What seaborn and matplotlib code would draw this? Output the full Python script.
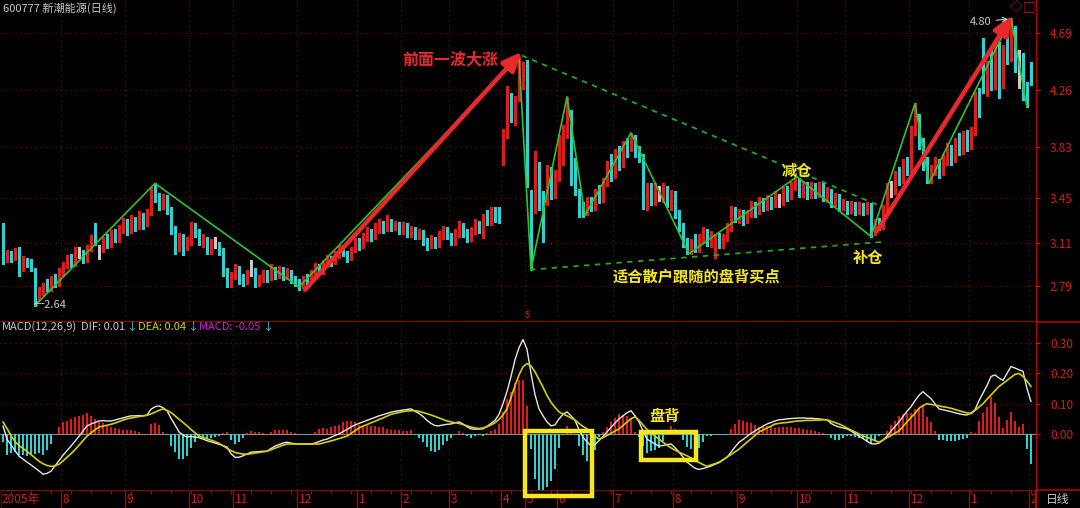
import numpy as np
import pandas as pd
import matplotlib
matplotlib.use("Agg")
import matplotlib.pyplot as plt
import seaborn as sns
from matplotlib.lines import Line2D
from matplotlib.patches import Rectangle

# ---------------- data ----------------
opens = [3.20,2.99,3.03,3.00,3.05,2.92,2.98,2.96,2.90,2.70,
         2.75,2.80,2.77,2.84,2.80,2.88,2.94,2.99,2.95,3.05,
         3.05,2.98,3.08,3.24,3.06,3.06,3.13,3.10,3.18,3.14,
         3.22,3.27,3.21,3.28,3.24,3.32,3.26,3.34,3.50,3.46,
         3.40,3.45,3.36,3.22,3.07,3.15,3.10,3.12,3.24,3.20,
         3.12,3.14,3.06,3.10,3.10,3.05,2.90,2.80,2.86,2.92,
         2.85,2.82,2.90,2.90,2.80,2.84,2.88,2.85,2.90,2.87,
         2.91,2.86,2.89,2.84,2.82,2.78,2.84,2.82,2.88,2.93,
         2.89,2.95,2.99,2.96,3.02,3.08,3.03,3.00,3.06,3.12,
         3.09,3.15,3.20,3.16,3.22,3.26,3.22,3.27,3.23,3.25,
         3.20,3.24,3.18,3.21,3.16,3.19,3.13,3.09,3.14,3.10,
         3.16,3.21,3.17,3.12,3.18,3.24,3.19,3.15,3.20,3.26,
         3.18,3.30,3.27,3.36,3.37,3.72,3.93,4.22,4.05,4.20,
         4.30,4.44,3.50,3.36,3.70,3.48,3.42,3.66,3.48,3.62,
         3.88,3.95,4.09,3.72,3.50,3.38,3.34,3.42,3.38,3.48,
         3.44,3.56,3.68,3.62,3.78,3.70,3.84,3.82,3.90,3.80,
         3.76,3.40,3.52,3.44,3.48,3.46,3.52,3.40,3.46,3.34,
         3.24,3.12,3.06,3.10,3.06,3.14,3.20,3.12,3.08,3.16,
         3.10,3.15,3.22,3.36,3.30,3.34,3.28,3.33,3.40,3.35,
         3.42,3.38,3.44,3.40,3.44,3.42,3.50,3.46,3.54,3.58,
         3.49,3.55,3.47,3.53,3.48,3.54,3.46,3.50,3.42,3.46,
         3.38,3.41,3.36,3.40,3.35,3.39,3.35,3.40,3.19,3.26,
         3.24,3.36,3.51,3.50,3.62,3.58,3.70,3.66,3.95,4.06,
         3.86,3.72,3.60,3.66,3.72,3.64,3.74,3.82,3.74,3.86,
         3.80,3.90,3.84,3.94,4.20,4.62,4.26,4.44,4.30,4.58,
         4.30,4.56,4.52,4.70,4.52,4.50,4.28,4.44]
closes = [2.98,3.03,3.00,3.04,2.90,2.98,2.95,2.93,2.68,2.76,
          2.79,2.77,2.83,2.80,2.88,2.94,2.99,2.95,3.05,3.05,
          2.98,3.08,3.14,3.12,3.06,3.13,3.10,3.18,3.14,3.22,
          3.27,3.21,3.28,3.24,3.32,3.26,3.34,3.50,3.46,3.40,
          3.45,3.36,3.22,3.06,3.15,3.10,3.12,3.24,3.20,3.12,
          3.14,3.06,3.10,3.10,3.05,2.90,2.80,2.86,2.92,2.85,
          2.82,2.88,2.90,2.80,2.84,2.88,2.85,2.90,2.87,2.91,
          2.86,2.89,2.84,2.82,2.78,2.84,2.82,2.88,2.93,2.89,
          2.95,2.99,2.96,3.02,3.08,3.03,3.00,3.06,3.12,3.09,
          3.15,3.20,3.16,3.22,3.26,3.22,3.27,3.23,3.25,3.20,
          3.24,3.18,3.21,3.16,3.19,3.13,3.09,3.14,3.10,3.16,
          3.21,3.17,3.12,3.18,3.24,3.19,3.15,3.20,3.26,3.22,
          3.30,3.27,3.34,3.30,3.30,3.94,4.26,4.05,4.20,4.48,
          4.44,3.56,2.95,3.78,3.40,3.15,3.66,3.48,3.62,3.88,
          3.95,4.17,3.58,3.50,3.35,3.34,3.42,3.38,3.48,3.44,
          3.56,3.68,3.62,3.78,3.70,3.84,3.80,3.90,3.80,3.74,
          3.40,3.52,3.44,3.50,3.48,3.52,3.40,3.46,3.34,3.24,
          3.12,3.05,3.10,3.06,3.14,3.20,3.12,3.16,3.16,3.10,
          3.15,3.22,3.36,3.30,3.34,3.28,3.33,3.40,3.35,3.42,
          3.38,3.44,3.40,3.46,3.44,3.50,3.46,3.54,3.58,3.49,
          3.55,3.47,3.53,3.48,3.54,3.46,3.50,3.42,3.46,3.38,
          3.41,3.36,3.40,3.35,3.39,3.35,3.38,3.19,3.26,3.24,
          3.36,3.52,3.51,3.62,3.58,3.70,3.66,3.95,4.12,3.86,
          3.70,3.60,3.66,3.72,3.64,3.74,3.82,3.74,3.86,3.80,
          3.90,3.84,3.94,4.20,4.10,4.26,4.44,4.30,4.60,4.28,
          4.56,4.50,4.72,4.45,4.52,4.22,4.16,4.34]
highs = [3.26,3.06,3.05,3.07,3.08,3.01,3.00,2.99,2.92,2.78,
         2.81,2.84,2.86,2.88,2.92,2.97,3.02,3.03,3.08,3.08,
         3.06,3.10,3.17,3.26,3.10,3.16,3.18,3.21,3.22,3.25,
         3.30,3.29,3.32,3.31,3.35,3.34,3.37,3.53,3.56,3.49,
         3.48,3.47,3.38,3.24,3.19,3.18,3.16,3.27,3.26,3.22,
         3.18,3.16,3.14,3.16,3.12,3.07,2.92,2.89,2.95,2.94,
         2.88,2.91,2.98,2.92,2.87,2.91,2.91,2.95,2.93,2.94,
         2.93,2.92,2.91,2.86,2.84,2.86,2.88,2.91,2.96,2.95,
         2.98,3.02,3.01,3.05,3.10,3.10,3.05,3.08,3.15,3.15,
         3.19,3.23,3.22,3.26,3.29,3.28,3.32,3.29,3.28,3.27,
         3.27,3.26,3.24,3.23,3.22,3.21,3.15,3.17,3.16,3.20,
         3.24,3.23,3.19,3.22,3.28,3.26,3.22,3.23,3.29,3.28,
         3.33,3.36,3.38,3.38,3.38,3.97,4.29,4.24,4.22,4.51,
         4.47,4.49,3.51,3.80,3.72,3.50,3.70,3.68,3.66,3.92,
         4.00,4.21,4.11,3.75,3.52,3.42,3.46,3.46,3.52,3.55,
         3.60,3.73,3.78,3.82,3.84,3.88,3.90,3.94,3.92,3.84,
         3.78,3.56,3.56,3.56,3.54,3.56,3.54,3.51,3.50,3.36,
         3.26,3.15,3.14,3.18,3.18,3.23,3.22,3.20,3.18,3.19,
         3.18,3.26,3.39,3.38,3.37,3.36,3.36,3.43,3.42,3.46,
         3.45,3.47,3.46,3.50,3.48,3.53,3.54,3.57,3.61,3.60,
         3.58,3.57,3.57,3.56,3.57,3.56,3.53,3.52,3.49,3.48,
         3.44,3.43,3.43,3.42,3.42,3.41,3.42,3.41,3.29,3.30,
         3.40,3.56,3.58,3.65,3.68,3.74,3.76,3.99,4.16,4.08,
         3.90,3.76,3.70,3.76,3.74,3.78,3.86,3.85,3.90,3.94,
         3.95,3.96,3.98,4.25,4.28,4.65,4.48,4.58,4.63,4.62,
         4.60,4.66,4.80,4.74,4.56,4.54,4.32,4.47]
lows = [2.95,2.97,2.97,2.98,2.86,2.90,2.93,2.90,2.64,2.68,
        2.72,2.75,2.75,2.78,2.79,2.86,2.92,2.93,2.94,3.00,
        2.96,2.97,3.05,3.10,2.99,3.04,3.07,3.08,3.12,3.12,
        3.19,3.17,3.19,3.20,3.22,3.22,3.24,3.32,3.42,3.36,
        3.37,3.33,3.18,3.03,3.05,3.02,3.06,3.10,3.16,3.10,
        3.08,3.03,3.03,3.07,3.02,2.86,2.78,2.78,2.84,2.80,
        2.79,2.80,2.86,2.78,2.79,2.82,2.82,2.83,2.84,2.85,
        2.83,2.84,2.81,2.79,2.76,2.77,2.80,2.81,2.86,2.87,
        2.88,2.93,2.94,2.95,3.00,3.01,2.97,2.98,3.04,3.06,
        3.07,3.13,3.13,3.14,3.19,3.19,3.20,3.20,3.21,3.18,
        3.18,3.16,3.16,3.14,3.14,3.10,3.06,3.07,3.07,3.08,
        3.14,3.14,3.10,3.10,3.16,3.16,3.12,3.13,3.18,3.19,
        3.15,3.25,3.25,3.27,3.26,3.70,3.90,4.02,4.00,4.18,
        4.27,3.53,2.91,3.34,3.36,3.12,3.40,3.44,3.45,3.58,
        3.70,3.90,3.55,3.47,3.31,3.31,3.32,3.35,3.36,3.41,
        3.42,3.54,3.58,3.60,3.66,3.68,3.76,3.80,3.76,3.72,
        3.37,3.36,3.40,3.40,3.43,3.42,3.38,3.36,3.30,3.20,
        3.08,3.03,3.03,3.04,3.04,3.12,3.09,3.08,3.00,3.07,
        3.07,3.13,3.20,3.27,3.26,3.25,3.26,3.31,3.31,3.33,
        3.35,3.36,3.37,3.38,3.38,3.40,3.43,3.44,3.51,3.46,
        3.46,3.44,3.45,3.45,3.46,3.43,3.42,3.38,3.39,3.35,
        3.36,3.33,3.34,3.32,3.33,3.32,3.33,3.16,3.17,3.21,
        3.22,3.34,3.46,3.48,3.55,3.56,3.62,3.64,3.92,3.82,
        3.66,3.56,3.56,3.62,3.60,3.62,3.70,3.70,3.72,3.77,
        3.78,3.80,3.82,3.92,4.06,4.24,4.22,4.26,4.27,4.20,
        4.28,4.46,4.48,4.40,4.28,4.19,4.13,4.30]
dif = [0.027,-0.017,-0.036,-0.055,-0.073,-0.083,-0.093,-0.102,-0.112,-0.122,
       -0.133,-0.130,-0.123,-0.105,-0.088,-0.070,-0.055,-0.040,-0.024,-0.008,
       0.010,0.027,0.033,0.038,0.043,0.044,0.043,0.043,0.046,0.050,
       0.053,0.057,0.060,0.060,0.061,0.060,0.062,0.082,0.090,0.093,
       0.087,0.077,0.052,0.030,0.007,-0.004,-0.010,-0.008,-0.010,-0.012,
       -0.017,-0.022,-0.026,-0.030,-0.034,-0.038,-0.043,-0.065,-0.077,-0.077,
       -0.072,-0.066,-0.060,-0.059,-0.058,-0.057,-0.057,-0.048,-0.040,-0.035,
       -0.030,-0.027,-0.030,-0.032,-0.033,-0.033,-0.034,-0.033,-0.030,-0.025,
       -0.020,-0.017,-0.011,-0.005,0.000,0.008,0.015,0.023,0.030,0.035,
       0.040,0.045,0.050,0.055,0.060,0.064,0.068,0.072,0.075,0.077,
       0.079,0.081,0.083,0.075,0.068,0.058,0.045,0.035,0.028,0.027,
       0.030,0.032,0.033,0.037,0.040,0.033,0.024,0.017,0.016,0.016,
       0.017,0.025,0.035,0.045,0.065,0.100,0.140,0.190,0.245,0.285,
       0.312,0.280,0.200,0.130,0.083,0.060,0.040,0.027,0.030,0.050,
       0.065,0.073,0.060,0.045,0.015,-0.010,-0.027,-0.038,-0.035,-0.022,
       -0.008,0.007,0.022,0.036,0.050,0.060,0.070,0.077,0.060,0.040,
       0.010,-0.017,-0.025,-0.033,-0.040,-0.038,-0.035,-0.033,-0.045,-0.060,
       -0.076,-0.093,-0.103,-0.113,-0.117,-0.114,-0.110,-0.106,-0.100,-0.095,
       -0.086,-0.077,-0.060,-0.043,-0.027,-0.018,-0.008,0.002,0.010,0.018,
       0.026,0.033,0.038,0.043,0.047,0.048,0.050,0.051,0.052,0.053,
       0.053,0.052,0.052,0.051,0.050,0.048,0.047,0.035,0.028,0.023,
       0.020,0.017,0.010,0.002,-0.007,-0.015,-0.024,-0.032,-0.033,-0.030,
       -0.020,-0.007,0.010,0.025,0.040,0.058,0.075,0.090,0.110,0.128,
       0.140,0.128,0.117,0.100,0.083,0.080,0.077,0.074,0.070,0.067,
       0.064,0.063,0.070,0.080,0.110,0.135,0.160,0.190,0.195,0.185,
       0.177,0.200,0.223,0.218,0.212,0.207,0.150,0.107]
dea = [0.040,0.018,-0.005,-0.025,-0.038,-0.048,-0.057,-0.068,-0.079,-0.090,
       -0.098,-0.104,-0.107,-0.105,-0.100,-0.089,-0.077,-0.065,-0.052,-0.037,
       -0.022,-0.007,0.004,0.014,0.023,0.026,0.029,0.032,0.036,0.041,
       0.046,0.050,0.053,0.055,0.058,0.060,0.062,0.066,0.072,0.078,
       0.083,0.078,0.071,0.060,0.049,0.038,0.027,0.015,0.004,-0.007,
       -0.012,-0.016,-0.020,-0.025,-0.031,-0.039,-0.047,-0.055,-0.061,-0.064,
       -0.066,-0.067,-0.065,-0.063,-0.061,-0.059,-0.057,-0.052,-0.047,-0.042,
       -0.037,-0.033,-0.033,-0.033,-0.033,-0.033,-0.033,-0.033,-0.033,-0.033,
       -0.030,-0.026,-0.023,-0.019,-0.015,-0.011,-0.007,0.002,0.011,0.020,
       0.026,0.031,0.037,0.042,0.048,0.053,0.059,0.065,0.068,0.071,
       0.074,0.076,0.077,0.077,0.075,0.071,0.067,0.063,0.058,0.053,
       0.048,0.043,0.040,0.037,0.035,0.031,0.027,0.023,0.020,0.018,
       0.020,0.024,0.030,0.037,0.048,0.063,0.083,0.120,0.160,0.195,
       0.222,0.233,0.225,0.205,0.180,0.155,0.127,0.105,0.088,0.073,
       0.066,0.060,0.053,0.046,0.035,0.025,0.017,0.005,-0.008,-0.017,
       -0.012,-0.005,0.002,0.010,0.017,0.028,0.040,0.050,0.057,0.045,
       0.030,0.015,0.003,-0.007,-0.017,-0.027,-0.037,-0.046,-0.053,-0.060,
       -0.066,-0.072,-0.079,-0.087,-0.094,-0.101,-0.107,-0.102,-0.098,-0.093,
       -0.085,-0.076,-0.068,-0.059,-0.050,-0.039,-0.027,-0.016,-0.005,0.007,
       0.013,0.020,0.026,0.033,0.035,0.037,0.038,0.040,0.042,0.043,
       0.044,0.045,0.045,0.046,0.046,0.047,0.047,0.042,0.038,0.033,
       0.027,0.020,0.013,0.007,0.000,-0.006,-0.011,-0.016,-0.022,-0.027,
       -0.020,-0.012,-0.005,0.003,0.010,0.025,0.040,0.055,0.068,0.085,
       0.094,0.100,0.098,0.095,0.093,0.090,0.088,0.085,0.081,0.077,
       0.073,0.070,0.067,0.078,0.089,0.100,0.115,0.129,0.143,0.157,
       0.167,0.177,0.187,0.197,0.200,0.190,0.175,0.157]

month_starts = [15, 31, 47, 58, 74, 89, 100, 112, 125, 131, 139, 153, 168, 184, 199, 211, 227, 242, 257]
month_labels = ["8", "9", "10", "11", "12", "1", "2", "3", "4", "5", "6", "7", "8", "9", "10", "11", "12", "1", "2"]
price_ticks = [4.69, 4.26, 3.83, 3.45, 3.11, 2.79]
macd_ticks = [0.30, 0.20, 0.10, 0.00]

zz_idx = [8, 38, 74, 129, 132, 141, 145.5, 157, 171.5, 198.5, 217, 228, 231.5, 252, 256]
zz_price = [2.64, 3.56, 2.78, 4.51, 2.91, 4.21, 3.32, 3.94, 3.03, 3.61, 3.16, 4.16, 3.56, 4.80, 4.13]
trend_up_idx = [129.75, 219.25]
trend_up_price = [4.52, 3.39]
trend_lo_idx = [131.75, 220.0]
trend_lo_price = [2.91, 3.12]
arrow1_idx = [75.5, 129.75]
arrow1_price = [2.76, 4.55]
arrow2_idx = [218.5, 252.25]
arrow2_price = [3.20, 4.82]

# ---------------- styling ----------------
sns.set_theme(style="dark", rc={"axes.facecolor": "black", "figure.facecolor": "black"})
plt.rcParams["font.family"] = ["Noto Sans CJK SC", "DejaVu Sans"]
plt.rcParams["axes.unicode_minus"] = False

UPC = "#e01b1b"
DNC = "#2fd2d2"
FLC = "#c8c8c8"
RED = "#d41c1c"
GRID = "#8c0000"
BORDER = "#b00000"
GREEN = "#2ec42e"
ARROW = "#e8292b"
YEL = "#f6e71a"
GREY = "#c8c8c8"

W, H = 1080, 508
fig = plt.figure(figsize=(W / 100, H / 100), dpi=100)
fig.patch.set_facecolor("black")


def fbox(x0, y0, x1, y1):
    return [x0 / W, 1 - y1 / H, (x1 - x0) / W, (y1 - y0) / H]


def xi(px):
    return (px - 3) / 4.0


def yp(py):
    return 4.69 - (py - 33) / 133.0


def yv(py):
    return (434 - py) / 303.0


ax = fig.add_axes(fbox(0, 0, 1036, 321))
ax2 = fig.add_axes(fbox(0, 322, 1036, 490))
ax3 = fig.add_axes(fbox(0, 490, 1036, 508))
ax3.set_zorder(1)
ax2.set_zorder(3)
ax.set_zorder(2)

for a in (ax, ax2, ax3):
    a.set_facecolor("black")
    a.set_xlim(-0.75, 258.25)
    for s in a.spines.values():
        s.set_visible(False)
    a.set_xticks([])
    a.grid(False)
ax.set_ylim(2.525, 4.938)
ax2.set_ylim(-0.185, 0.370)
ax3.set_ylim(0, 1)
ax3.set_yticks([])

n = len(closes)
idx = np.arange(n)
o = np.array(opens)
c = np.array(closes)
h = np.array(highs)
l = np.array(lows)
dif_a = np.array(dif)
dea_a = np.array(dea)
hist = 2 * (dif_a - dea_a)

# grid lines
dots = (0, (1, 3))
for p in price_ticks:
    ax.axhline(p, color=GRID, lw=0.9, ls=dots, zorder=0)
for v in macd_ticks[:-1]:
    ax2.axhline(v, color=GRID, lw=0.9, ls=dots, zorder=0)
for m in month_starts:
    ax.axvline(m - 0.5, color=GRID, lw=0.9, ls=dots, zorder=0)
    ax2.axvline(m - 0.5, color=GRID, lw=0.9, ls=dots, zorder=0)

# candles
col = np.where(c > o, UPC, np.where(c < o, DNC, FLC))
ax.vlines(idx, l, h, colors=col, lw=1.0, zorder=3, antialiased=False)
ax.bar(idx, np.maximum(np.abs(c - o), 0.006), bottom=np.minimum(o, c), width=0.5,
       color=col, linewidth=0, zorder=3)

# zigzag and trend lines
zz = pd.DataFrame({"i": zz_idx, "p": zz_price})
sns.lineplot(data=zz, x="i", y="p", ax=ax, color=GREEN, lw=1.2, sort=False, estimator=None, zorder=4)
ax.plot(trend_up_idx, trend_up_price, color="#22a822", lw=1.3, ls=(0, (3, 3)), zorder=4)
ax.plot(trend_lo_idx, trend_lo_price, color="#22a822", lw=1.3, ls=(0, (3, 3)), zorder=4)

# red arrows
for ai, ap in ((arrow1_idx, arrow1_price), (arrow2_idx, arrow2_price)):
    ax.annotate("", xy=(ai[1], ap[1]), xytext=(ai[0], ap[0]),
                arrowprops=dict(arrowstyle="-|>,head_length=0.7,head_width=0.3", color=ARROW,
                                lw=3.3, shrinkA=0, shrinkB=0, mutation_scale=16), zorder=6)

# annotations in the price panel
ax.text(xi(450), yp(59), "前面一波大涨", color=ARROW, fontsize=11.5, fontweight="bold",
        ha="center", va="center", zorder=7)
ax.text(xi(797), yp(171), "减仓", color=YEL, fontsize=11, fontweight="bold", ha="center", va="center", zorder=7)
ax.text(xi(868), yp(258), "补仓", color=YEL, fontsize=11, fontweight="bold", ha="center", va="center", zorder=7)
ax.text(xi(697), yp(276), "适合散户跟随的盘背买点", color=YEL, fontsize=11, fontweight="bold",
        ha="center", va="center", zorder=7)
ax.text(xi(34), yp(305), "←2.64", color=GREY, fontsize=8, ha="left", va="center", zorder=7)
ax.annotate("4.80", xy=(xi(1008), yp(19)), xytext=(xi(970), yp(22)), color=GREY, fontsize=8,
            ha="left", va="center", zorder=7,
            arrowprops=dict(arrowstyle="->", color=GREY, lw=0.8, shrinkA=1, shrinkB=0))

# MACD panel
ax2.axhline(0, color="#8a8a8a", lw=0.8, zorder=1)
hcol = np.where(hist >= 0, UPC, DNC)
ax2.bar(idx, hist, bottom=0, width=0.3, color=hcol, linewidth=0, zorder=2, antialiased=False)
mdf = pd.DataFrame({"i": idx, "dif": dif_a, "dea": dea_a})
sns.lineplot(data=mdf, x="i", y="dif", ax=ax2, color="#e6e6e6", lw=1.0, zorder=4)
sns.lineplot(data=mdf, x="i", y="dea", ax=ax2, color="#d6cf00", lw=1.2, zorder=4)
for a in (ax, ax2):
    a.set_xlabel("")
    a.set_ylabel("")
    a.set_xlim(-0.75, 258.25)
    a.set_xticks([])
ax.set_ylim(2.525, 4.938)
ax2.set_ylim(-0.185, 0.370)

ax2.add_patch(Rectangle((xi(525), yv(496)), xi(592) - xi(525), yv(431) - yv(496), fill=False,
                        ec=YEL, lw=3.2, clip_on=False, zorder=8))
ax2.add_patch(Rectangle((xi(641), yv(460)), xi(696) - xi(641), yv(432) - yv(460), fill=False,
                        ec=YEL, lw=3.2, clip_on=False, zorder=8))
ax2.text(xi(665), yv(416), "盘背", color=YEL, fontsize=11, fontweight="bold", ha="center", va="center", zorder=8)

# right-hand tick labels
for a, ticks in ((ax, price_ticks), (ax2, macd_ticks)):
    a.yaxis.tick_right()
    a.set_yticks(ticks)
    a.set_yticklabels([f"{t:.2f}" for t in ticks])
    a.tick_params(axis="y", right=True, left=False, labelright=True, labelleft=False,
                  colors=RED, labelcolor=RED, labelsize=8.5, length=3, width=0.8, pad=7, direction="out")

# bottom date strip
for m, lab in zip(month_starts, month_labels):
    ax3.vlines(m - 0.5, 0, 1, color=BORDER, lw=1.0)
    ax3.text(m - 0.1, 0.45, lab, color=RED, fontsize=8.5, ha="left", va="center")
ax3.text(-0.3, 0.45, "2005年", color=RED, fontsize=8.5, ha="left", va="center")
ax3.vlines(np.arange(2, n, 5), 0.78, 1.0, color=BORDER, lw=0.8)

# panel borders
fig.add_artist(Line2D([0, 1], [1 - 321.5 / H] * 2, color=BORDER, lw=1.2))
fig.add_artist(Line2D([0, 1], [1 - 490 / H] * 2, color=BORDER, lw=1.2))
fig.add_artist(Line2D([1036 / W] * 2, [0, 1], color="#d00000", lw=1.3))
fig.add_artist(Line2D([1 / W] * 2, [0, 1], color="#700000", lw=1.0))

# header, legend and small labels
fig.text(3 / W, 1 - 8 / H, "600777 新潮能源(日线)", color=GREY, fontsize=8, ha="left", va="center")
fig.text(1016 / W, 1 - 8 / H, "◇", color=RED, fontsize=9, ha="center", va="center")
fig.text(1029 / W, 1 - 8 / H, "□", color=RED, fontsize=9, ha="center", va="center")
fig.text(527 / W, 1 - 316 / H, "5", color=RED, fontsize=6.5, ha="center", va="center")
legend_parts = [(2, "MACD(12,26,9)", GREY), (81, "DIF: 0.01", GREY), (126, "↓", DNC),
                (138, "DEA: 0.04", "#d6cf00"), (187, "↓", DNC), (199, "MACD: -0.05", "#d21ed2"),
                (262, "↓", DNC)]
for px, txt, cc in legend_parts:
    fig.text(px / W, 1 - 327 / H, txt, color=cc, fontsize=8, ha="left", va="center")
fig.text(1058 / W, 1 - 499 / H, "日线", color=GREY, fontsize=8.5, ha="center", va="center")

fig.savefig("out.png", dpi=100, facecolor="black")
